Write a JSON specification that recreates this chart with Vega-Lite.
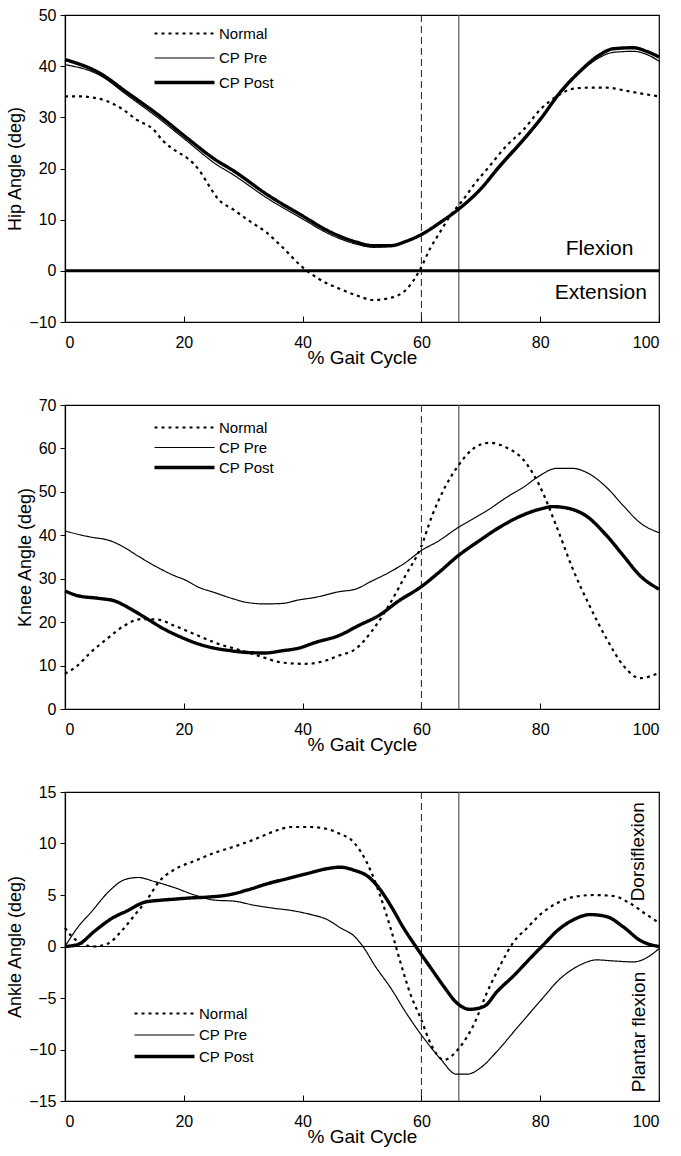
{
  "$schema": "https://vega.github.io/schema/vega-lite/v6.json",
  "background": "white",
  "padding": {"left": 6, "top": 6, "right": 12, "bottom": 4},
  "spacing": 28,
  "config": {
    "font": "Liberation Sans",
    "view": {"stroke": "black", "strokeWidth": 1.2},
    "axis": {
      "domainColor": "black", "domainWidth": 1.2, "tickColor": "black", "tickSize": 5,
      "labelColor": "black", "labelFontSize": 16, "labelFont": "Liberation Sans",
      "titleColor": "black", "titleFont": "Liberation Sans", "titleFontWeight": "normal",
      "grid": false
    },
    "axisX": {"titleFontSize": 19, "labelPadding": 18, "titlePadding": -2, "tickSize": -6},
    "axisY": {"titleFontSize": 18, "labelPadding": 4, "titlePadding": 4},
    "legend": {
      "orient": "none", "title": null, "labelFontSize": 15, "labelFont": "Liberation Sans",
      "labelColor": "black", "symbolType": "M-11,0H1", "symbolSize": 100,
      "symbolStrokeColor": "black", "labelOffset": 2, "padding": 0
    }
  },
  "datasets": {
    "hip": [
      {"x":0,"y":34.1,"s":"Normal"},{"x":2.5,"y":34.1,"s":"Normal"},{"x":5,"y":33.8,"s":"Normal"},{"x":7,"y":33.2,"s":"Normal"},{"x":9.8,"y":31.5,"s":"Normal"},{"x":12.1,"y":29.5,"s":"Normal"},{"x":14.9,"y":27.6,"s":"Normal"},{"x":16.5,"y":25.4,"s":"Normal"},{"x":18.7,"y":23.4,"s":"Normal"},{"x":20.5,"y":22.1,"s":"Normal"},{"x":22.7,"y":19.5,"s":"Normal"},{"x":24.1,"y":16.9,"s":"Normal"},{"x":25.8,"y":14.0,"s":"Normal"},{"x":28.3,"y":12.0,"s":"Normal"},{"x":31.1,"y":9.7,"s":"Normal"},{"x":33.9,"y":7.5,"s":"Normal"},{"x":36.7,"y":4.5,"s":"Normal"},{"x":39.8,"y":0.9,"s":"Normal"},{"x":42.9,"y":-1.7,"s":"Normal"},{"x":46.2,"y":-3.5,"s":"Normal"},{"x":49.1,"y":-4.8,"s":"Normal"},{"x":51.9,"y":-5.7,"s":"Normal"},{"x":54.7,"y":-5.3,"s":"Normal"},{"x":57.5,"y":-3.6,"s":"Normal"},{"x":59.8,"y":0.3,"s":"Normal"},{"x":61.4,"y":4.2,"s":"Normal"},{"x":63.1,"y":7.5,"s":"Normal"},{"x":64.8,"y":10.7,"s":"Normal"},{"x":67.1,"y":14.0,"s":"Normal"},{"x":68.7,"y":16.6,"s":"Normal"},{"x":71.5,"y":20.5,"s":"Normal"},{"x":74.3,"y":24.4,"s":"Normal"},{"x":77.2,"y":27.6,"s":"Normal"},{"x":80,"y":31.5,"s":"Normal"},{"x":82.8,"y":34.1,"s":"Normal"},{"x":85.6,"y":35.6,"s":"Normal"},{"x":88.4,"y":35.8,"s":"Normal"},{"x":91.2,"y":35.8,"s":"Normal"},{"x":94,"y":35.3,"s":"Normal"},{"x":96.8,"y":34.7,"s":"Normal"},{"x":100,"y":34.1,"s":"Normal"},
      {"x":0,"y":40.3,"s":"CP Pre"},{"x":5.9,"y":38.2,"s":"CP Pre"},{"x":10.4,"y":34.4,"s":"CP Pre"},{"x":16,"y":29.6,"s":"CP Pre"},{"x":20.5,"y":25.4,"s":"CP Pre"},{"x":25.6,"y":20.7,"s":"CP Pre"},{"x":28.3,"y":18.8,"s":"CP Pre"},{"x":33.9,"y":14.3,"s":"CP Pre"},{"x":39.6,"y":10.4,"s":"CP Pre"},{"x":45.2,"y":6.8,"s":"CP Pre"},{"x":49.1,"y":5.2,"s":"CP Pre"},{"x":51.9,"y":4.6,"s":"CP Pre"},{"x":54.7,"y":4.8,"s":"CP Pre"},{"x":57.5,"y":5.8,"s":"CP Pre"},{"x":60,"y":7.1,"s":"CP Pre"},{"x":63.1,"y":9.4,"s":"CP Pre"},{"x":66.2,"y":12.0,"s":"CP Pre"},{"x":69.9,"y":15.8,"s":"CP Pre"},{"x":73.2,"y":20.2,"s":"CP Pre"},{"x":77.2,"y":25.4,"s":"CP Pre"},{"x":80,"y":29.3,"s":"CP Pre"},{"x":83.3,"y":34.6,"s":"CP Pre"},{"x":86.7,"y":38.8,"s":"CP Pre"},{"x":90,"y":41.7,"s":"CP Pre"},{"x":92.3,"y":42.7,"s":"CP Pre"},{"x":95.7,"y":42.9,"s":"CP Pre"},{"x":97.9,"y":42.3,"s":"CP Pre"},{"x":100,"y":41.0,"s":"CP Pre"},
      {"x":0,"y":41.3,"s":"CP Post"},{"x":5.9,"y":38.6,"s":"CP Post"},{"x":10.4,"y":34.9,"s":"CP Post"},{"x":16,"y":30.2,"s":"CP Post"},{"x":20.5,"y":26.0,"s":"CP Post"},{"x":25.6,"y":21.5,"s":"CP Post"},{"x":28.3,"y":19.6,"s":"CP Post"},{"x":33.9,"y":15.0,"s":"CP Post"},{"x":39.6,"y":11.0,"s":"CP Post"},{"x":45.2,"y":7.3,"s":"CP Post"},{"x":49.1,"y":5.6,"s":"CP Post"},{"x":51.9,"y":4.9,"s":"CP Post"},{"x":54.7,"y":4.9,"s":"CP Post"},{"x":57.5,"y":5.8,"s":"CP Post"},{"x":60,"y":7.1,"s":"CP Post"},{"x":63.1,"y":9.4,"s":"CP Post"},{"x":66.2,"y":12.0,"s":"CP Post"},{"x":69.9,"y":15.9,"s":"CP Post"},{"x":73.2,"y":20.5,"s":"CP Post"},{"x":77.2,"y":25.7,"s":"CP Post"},{"x":80,"y":29.6,"s":"CP Post"},{"x":83.3,"y":34.8,"s":"CP Post"},{"x":86.7,"y":39.0,"s":"CP Post"},{"x":90,"y":42.2,"s":"CP Post"},{"x":92.3,"y":43.4,"s":"CP Post"},{"x":95.7,"y":43.6,"s":"CP Post"},{"x":97.9,"y":42.9,"s":"CP Post"},{"x":100,"y":41.8,"s":"CP Post"}
    ],
    "knee": [
      {"x":0,"y":8.1,"s":"Normal"},{"x":2.1,"y":10.0,"s":"Normal"},{"x":4.3,"y":13.0,"s":"Normal"},{"x":7.2,"y":16.3,"s":"Normal"},{"x":10,"y":19.2,"s":"Normal"},{"x":12.8,"y":20.7,"s":"Normal"},{"x":15.6,"y":20.6,"s":"Normal"},{"x":18.4,"y":19.2,"s":"Normal"},{"x":22.4,"y":16.9,"s":"Normal"},{"x":25.8,"y":15.0,"s":"Normal"},{"x":29.1,"y":13.7,"s":"Normal"},{"x":32.5,"y":12.3,"s":"Normal"},{"x":36.5,"y":10.7,"s":"Normal"},{"x":40.4,"y":10.4,"s":"Normal"},{"x":43.8,"y":11.1,"s":"Normal"},{"x":46.1,"y":12.3,"s":"Normal"},{"x":48.9,"y":13.8,"s":"Normal"},{"x":51.7,"y":18.0,"s":"Normal"},{"x":54.5,"y":23.8,"s":"Normal"},{"x":57.3,"y":30.7,"s":"Normal"},{"x":59.9,"y":37.2,"s":"Normal"},{"x":61.8,"y":44.5,"s":"Normal"},{"x":64.1,"y":51.4,"s":"Normal"},{"x":66.4,"y":56.4,"s":"Normal"},{"x":68.6,"y":59.8,"s":"Normal"},{"x":71.4,"y":61.3,"s":"Normal"},{"x":74.3,"y":60.2,"s":"Normal"},{"x":77.1,"y":57.5,"s":"Normal"},{"x":79.9,"y":51.4,"s":"Normal"},{"x":82.7,"y":42.2,"s":"Normal"},{"x":85.5,"y":32.2,"s":"Normal"},{"x":88.3,"y":23.8,"s":"Normal"},{"x":91.2,"y":16.1,"s":"Normal"},{"x":94,"y":10.0,"s":"Normal"},{"x":96.8,"y":7.1,"s":"Normal"},{"x":99.6,"y":8.1,"s":"Normal"},
      {"x":0,"y":41.0,"s":"CP Pre"},{"x":3.2,"y":39.9,"s":"CP Pre"},{"x":4.3,"y":39.6,"s":"CP Pre"},{"x":7.7,"y":38.7,"s":"CP Pre"},{"x":10,"y":37.2,"s":"CP Pre"},{"x":12.2,"y":35.3,"s":"CP Pre"},{"x":15.6,"y":32.6,"s":"CP Pre"},{"x":18.4,"y":30.7,"s":"CP Pre"},{"x":20.1,"y":29.8,"s":"CP Pre"},{"x":22.4,"y":28.1,"s":"CP Pre"},{"x":25.2,"y":26.8,"s":"CP Pre"},{"x":28,"y":25.5,"s":"CP Pre"},{"x":30.8,"y":24.5,"s":"CP Pre"},{"x":33.7,"y":24.2,"s":"CP Pre"},{"x":36.5,"y":24.3,"s":"CP Pre"},{"x":39.3,"y":25.1,"s":"CP Pre"},{"x":42.1,"y":25.7,"s":"CP Pre"},{"x":46.1,"y":27.0,"s":"CP Pre"},{"x":48.9,"y":27.6,"s":"CP Pre"},{"x":51.7,"y":29.5,"s":"CP Pre"},{"x":54.5,"y":31.4,"s":"CP Pre"},{"x":57.3,"y":33.7,"s":"CP Pre"},{"x":59.9,"y":36.4,"s":"CP Pre"},{"x":62.9,"y":38.7,"s":"CP Pre"},{"x":66.2,"y":41.8,"s":"CP Pre"},{"x":68.6,"y":43.7,"s":"CP Pre"},{"x":71.4,"y":46.0,"s":"CP Pre"},{"x":74.3,"y":48.7,"s":"CP Pre"},{"x":77.1,"y":51.0,"s":"CP Pre"},{"x":79.9,"y":53.7,"s":"CP Pre"},{"x":82.7,"y":55.4,"s":"CP Pre"},{"x":85.5,"y":55.4,"s":"CP Pre"},{"x":88.3,"y":54.1,"s":"CP Pre"},{"x":91.2,"y":51.0,"s":"CP Pre"},{"x":94,"y":46.8,"s":"CP Pre"},{"x":96.8,"y":42.9,"s":"CP Pre"},{"x":100,"y":40.6,"s":"CP Pre"},
      {"x":0,"y":27.2,"s":"CP Post"},{"x":2.1,"y":26.1,"s":"CP Post"},{"x":5.5,"y":25.5,"s":"CP Post"},{"x":8.3,"y":24.9,"s":"CP Post"},{"x":11.1,"y":23.0,"s":"CP Post"},{"x":13.9,"y":20.7,"s":"CP Post"},{"x":16.7,"y":18.4,"s":"CP Post"},{"x":19.6,"y":16.5,"s":"CP Post"},{"x":22.4,"y":15.0,"s":"CP Post"},{"x":25.2,"y":14.0,"s":"CP Post"},{"x":28,"y":13.4,"s":"CP Post"},{"x":30.8,"y":13.0,"s":"CP Post"},{"x":33.7,"y":12.9,"s":"CP Post"},{"x":36.5,"y":13.4,"s":"CP Post"},{"x":39.3,"y":14.0,"s":"CP Post"},{"x":42.1,"y":15.3,"s":"CP Post"},{"x":46.1,"y":16.9,"s":"CP Post"},{"x":49.4,"y":19.2,"s":"CP Post"},{"x":52.8,"y":21.5,"s":"CP Post"},{"x":56.2,"y":24.9,"s":"CP Post"},{"x":59.9,"y":28.1,"s":"CP Post"},{"x":62.9,"y":31.4,"s":"CP Post"},{"x":66.2,"y":35.3,"s":"CP Post"},{"x":69.7,"y":38.7,"s":"CP Post"},{"x":73.1,"y":41.8,"s":"CP Post"},{"x":76.5,"y":44.3,"s":"CP Post"},{"x":79.9,"y":46.0,"s":"CP Post"},{"x":82.1,"y":46.6,"s":"CP Post"},{"x":84.4,"y":46.3,"s":"CP Post"},{"x":87.7,"y":44.5,"s":"CP Post"},{"x":91.2,"y":39.9,"s":"CP Post"},{"x":94,"y":35.3,"s":"CP Post"},{"x":96.8,"y":30.7,"s":"CP Post"},{"x":100,"y":27.6,"s":"CP Post"}
    ],
    "ankle": [
      {"x":0,"y":1.8,"s":"Normal"},{"x":1.1,"y":1.0,"s":"Normal"},{"x":2.8,"y":0.3,"s":"Normal"},{"x":5,"y":0,"s":"Normal"},{"x":7.3,"y":0.3,"s":"Normal"},{"x":9.5,"y":1.5,"s":"Normal"},{"x":11.8,"y":3.1,"s":"Normal"},{"x":14,"y":4.7,"s":"Normal"},{"x":15.7,"y":6.2,"s":"Normal"},{"x":18.5,"y":7.5,"s":"Normal"},{"x":21.8,"y":8.3,"s":"Normal"},{"x":25.2,"y":9.1,"s":"Normal"},{"x":28.5,"y":9.7,"s":"Normal"},{"x":31.9,"y":10.4,"s":"Normal"},{"x":35.3,"y":11.2,"s":"Normal"},{"x":38.1,"y":11.6,"s":"Normal"},{"x":41.4,"y":11.6,"s":"Normal"},{"x":44.2,"y":11.4,"s":"Normal"},{"x":46.4,"y":10.9,"s":"Normal"},{"x":48.1,"y":10.4,"s":"Normal"},{"x":49.8,"y":9.2,"s":"Normal"},{"x":51.5,"y":7.3,"s":"Normal"},{"x":53.2,"y":4.7,"s":"Normal"},{"x":54.8,"y":1.8,"s":"Normal"},{"x":56.4,"y":-1.4,"s":"Normal"},{"x":58.2,"y":-4.7,"s":"Normal"},{"x":59.9,"y":-7.0,"s":"Normal"},{"x":61.6,"y":-9.5,"s":"Normal"},{"x":63.8,"y":-11.0,"s":"Normal"},{"x":66.3,"y":-9.9,"s":"Normal"},{"x":68.8,"y":-7.6,"s":"Normal"},{"x":71.1,"y":-4.4,"s":"Normal"},{"x":73.3,"y":-1.8,"s":"Normal"},{"x":75.6,"y":0.5,"s":"Normal"},{"x":77.8,"y":1.8,"s":"Normal"},{"x":80,"y":3.1,"s":"Normal"},{"x":82.8,"y":4.2,"s":"Normal"},{"x":85.6,"y":4.8,"s":"Normal"},{"x":89,"y":5.0,"s":"Normal"},{"x":92.3,"y":4.9,"s":"Normal"},{"x":95.1,"y":4.2,"s":"Normal"},{"x":97.9,"y":3.1,"s":"Normal"},{"x":100,"y":2.3,"s":"Normal"},
      {"x":0,"y":0,"s":"CP Pre"},{"x":2.2,"y":1.9,"s":"CP Pre"},{"x":4.5,"y":3.4,"s":"CP Pre"},{"x":7.3,"y":5.3,"s":"CP Pre"},{"x":10.1,"y":6.5,"s":"CP Pre"},{"x":12.3,"y":6.7,"s":"CP Pre"},{"x":15.1,"y":6.3,"s":"CP Pre"},{"x":18.5,"y":5.7,"s":"CP Pre"},{"x":21.8,"y":5.0,"s":"CP Pre"},{"x":25.2,"y":4.5,"s":"CP Pre"},{"x":28.5,"y":4.4,"s":"CP Pre"},{"x":31.9,"y":4.0,"s":"CP Pre"},{"x":35.3,"y":3.7,"s":"CP Pre"},{"x":38.1,"y":3.5,"s":"CP Pre"},{"x":41.4,"y":3.1,"s":"CP Pre"},{"x":44.2,"y":2.6,"s":"CP Pre"},{"x":46.4,"y":1.8,"s":"CP Pre"},{"x":48.7,"y":1.0,"s":"CP Pre"},{"x":50.4,"y":-0.2,"s":"CP Pre"},{"x":52.1,"y":-1.8,"s":"CP Pre"},{"x":54.8,"y":-4.0,"s":"CP Pre"},{"x":57.6,"y":-6.6,"s":"CP Pre"},{"x":60.4,"y":-8.9,"s":"CP Pre"},{"x":63.2,"y":-10.9,"s":"CP Pre"},{"x":65.9,"y":-12.4,"s":"CP Pre"},{"x":67.7,"y":-12.4,"s":"CP Pre"},{"x":69.9,"y":-11.8,"s":"CP Pre"},{"x":72.7,"y":-10.2,"s":"CP Pre"},{"x":76.1,"y":-7.9,"s":"CP Pre"},{"x":80,"y":-5.3,"s":"CP Pre"},{"x":83.4,"y":-3.1,"s":"CP Pre"},{"x":86.7,"y":-1.8,"s":"CP Pre"},{"x":89.5,"y":-1.3,"s":"CP Pre"},{"x":92.3,"y":-1.4,"s":"CP Pre"},{"x":95.7,"y":-1.5,"s":"CP Pre"},{"x":97.9,"y":-1.1,"s":"CP Pre"},{"x":100,"y":-0.2,"s":"CP Pre"},
      {"x":0,"y":0,"s":"CP Post"},{"x":2.2,"y":0.2,"s":"CP Post"},{"x":5,"y":1.5,"s":"CP Post"},{"x":7.8,"y":2.7,"s":"CP Post"},{"x":10.6,"y":3.5,"s":"CP Post"},{"x":13.4,"y":4.3,"s":"CP Post"},{"x":16.2,"y":4.5,"s":"CP Post"},{"x":18.5,"y":4.6,"s":"CP Post"},{"x":20.7,"y":4.7,"s":"CP Post"},{"x":24.1,"y":4.8,"s":"CP Post"},{"x":27.4,"y":5.0,"s":"CP Post"},{"x":30.8,"y":5.5,"s":"CP Post"},{"x":34.1,"y":6.1,"s":"CP Post"},{"x":37.5,"y":6.6,"s":"CP Post"},{"x":40.9,"y":7.1,"s":"CP Post"},{"x":43.6,"y":7.5,"s":"CP Post"},{"x":46.4,"y":7.7,"s":"CP Post"},{"x":48.7,"y":7.4,"s":"CP Post"},{"x":51,"y":6.8,"s":"CP Post"},{"x":52.7,"y":5.8,"s":"CP Post"},{"x":54.8,"y":4.0,"s":"CP Post"},{"x":57,"y":1.8,"s":"CP Post"},{"x":59.3,"y":-0.2,"s":"CP Post"},{"x":61.6,"y":-2.1,"s":"CP Post"},{"x":63.8,"y":-3.9,"s":"CP Post"},{"x":66,"y":-5.5,"s":"CP Post"},{"x":68.2,"y":-6.1,"s":"CP Post"},{"x":70.6,"y":-5.8,"s":"CP Post"},{"x":72.7,"y":-4.4,"s":"CP Post"},{"x":75.6,"y":-2.8,"s":"CP Post"},{"x":78.4,"y":-1.1,"s":"CP Post"},{"x":80.6,"y":0.2,"s":"CP Post"},{"x":82.8,"y":1.5,"s":"CP Post"},{"x":85.6,"y":2.6,"s":"CP Post"},{"x":88.4,"y":3.1,"s":"CP Post"},{"x":91.2,"y":2.9,"s":"CP Post"},{"x":94,"y":1.9,"s":"CP Post"},{"x":96.8,"y":0.6,"s":"CP Post"},{"x":100,"y":0,"s":"CP Post"}
    ]
  },
  "vconcat": [
    {
      "width": 594, "height": 307,
      "layer": [
        {"data": {"values": [{"x": 60}]}, "mark": {"type": "rule", "color": "#222", "strokeWidth": 1, "strokeDash": [7, 4]}, "encoding": {"x": {"field": "x", "type": "quantitative", "scale": {"domain": [0, 100]}}}},
        {"data": {"values": [{"x": 66.3}]}, "mark": {"type": "rule", "color": "#555", "strokeWidth": 1.2}, "encoding": {"x": {"field": "x", "type": "quantitative"}}},
        {"data": {"values": [{"y": 0}]}, "mark": {"type": "rule", "color": "black", "strokeWidth": 3}, "encoding": {"y": {"field": "y", "type": "quantitative"}}},
        {"data": {"values": [{"x": 90, "y": 4.3, "t": "Flexion"}, {"x": 90.2, "y": -4.4, "t": "Extension"}]}, "mark": {"type": "text", "fontSize": 21, "font": "Liberation Sans", "color": "black", "align": "center", "baseline": "middle"}, "encoding": {"x": {"field": "x", "type": "quantitative"}, "y": {"field": "y", "type": "quantitative"}, "text": {"field": "t"}}},
        {
          "data": {"name": "hip"},
          "mark": {"type": "line", "color": "black", "interpolate": "monotone"},
          "encoding": {
            "x": {"field": "x", "type": "quantitative", "scale": {"domain": [0, 100], "nice": false}, "axis": {"values": [0, 20, 40, 60, 80, 100], "title": "% Gait Cycle"}},
            "y": {"field": "y", "type": "quantitative", "scale": {"domain": [-10, 50], "nice": false}, "axis": {"values": [-10, 0, 10, 20, 30, 40, 50], "title": "Hip Angle (deg)"}},
            "strokeDash": {"field": "s", "type": "nominal", "scale": {"type": "ordinal", "domain": ["Normal", "CP Pre", "CP Post"], "range": [[3, 4], [1, 0], [1, 0]]}, "legend": {"legendX": 137, "legendY": 11, "rowPadding": 8.5}},
            "strokeWidth": {"field": "s", "type": "nominal", "scale": {"type": "ordinal", "domain": ["Normal", "CP Pre", "CP Post"], "range": [2.2, 1.2, 3.4]}, "legend": {"legendX": 137, "legendY": 11, "rowPadding": 8.5}}
          }
        }
      ]
    },
    {
      "width": 594, "height": 304,
      "layer": [
        {"data": {"values": [{"x": 60}]}, "mark": {"type": "rule", "color": "#222", "strokeWidth": 1, "strokeDash": [7, 4]}, "encoding": {"x": {"field": "x", "type": "quantitative", "scale": {"domain": [0, 100]}}}},
        {"data": {"values": [{"x": 66.3}]}, "mark": {"type": "rule", "color": "#555", "strokeWidth": 1.2}, "encoding": {"x": {"field": "x", "type": "quantitative"}}},
        {
          "data": {"name": "knee"},
          "mark": {"type": "line", "color": "black", "interpolate": "monotone"},
          "encoding": {
            "x": {"field": "x", "type": "quantitative", "scale": {"domain": [0, 100], "nice": false}, "axis": {"values": [0, 20, 40, 60, 80, 100], "title": "% Gait Cycle"}},
            "y": {"field": "y", "type": "quantitative", "scale": {"domain": [0, 70], "nice": false}, "axis": {"values": [0, 10, 20, 30, 40, 50, 60, 70], "title": "Knee Angle (deg)"}},
            "strokeDash": {"field": "s", "type": "nominal", "scale": {"type": "ordinal", "domain": ["Normal", "CP Pre", "CP Post"], "range": [[3, 4], [1, 0], [1, 0]]}, "legend": {"legendX": 137, "legendY": 15, "rowPadding": 4}},
            "strokeWidth": {"field": "s", "type": "nominal", "scale": {"type": "ordinal", "domain": ["Normal", "CP Pre", "CP Post"], "range": [2.2, 1.2, 3.4]}, "legend": {"legendX": 137, "legendY": 15, "rowPadding": 4}}
          }
        }
      ]
    },
    {
      "width": 594, "height": 309,
      "layer": [
        {"data": {"values": [{"x": 60}]}, "mark": {"type": "rule", "color": "#222", "strokeWidth": 1, "strokeDash": [7, 4]}, "encoding": {"x": {"field": "x", "type": "quantitative", "scale": {"domain": [0, 100]}}}},
        {"data": {"values": [{"x": 66.3}]}, "mark": {"type": "rule", "color": "#555", "strokeWidth": 1.2}, "encoding": {"x": {"field": "x", "type": "quantitative"}}},
        {"data": {"values": [{"y": 0}]}, "mark": {"type": "rule", "color": "black", "strokeWidth": 1.2}, "encoding": {"y": {"field": "y", "type": "quantitative"}}},
        {"data": {"values": [{"x": 96.4, "y": 9.2, "t": "Dorsiflexion"}, {"x": 96.6, "y": -8.3, "t": "Plantar flexion"}]}, "mark": {"type": "text", "fontSize": 19, "font": "Liberation Sans", "color": "black", "align": "center", "baseline": "middle", "angle": 270}, "encoding": {"x": {"field": "x", "type": "quantitative"}, "y": {"field": "y", "type": "quantitative"}, "text": {"field": "t"}}},
        {
          "data": {"name": "ankle"},
          "mark": {"type": "line", "color": "black", "interpolate": "monotone"},
          "encoding": {
            "x": {"field": "x", "type": "quantitative", "scale": {"domain": [0, 100], "nice": false}, "axis": {"values": [0, 20, 40, 60, 80, 100], "title": "% Gait Cycle"}},
            "y": {"field": "y", "type": "quantitative", "scale": {"domain": [-15, 15], "nice": false}, "axis": {"values": [-15, -10, -5, 0, 5, 10, 15], "title": "Ankle Angle (deg)"}},
            "strokeDash": {"field": "s", "type": "nominal", "scale": {"type": "ordinal", "domain": ["Normal", "CP Pre", "CP Post"], "range": [[3, 4], [1, 0], [1, 0]]}, "legend": {"legendX": 117, "legendY": 214, "rowPadding": 5.5}},
            "strokeWidth": {"field": "s", "type": "nominal", "scale": {"type": "ordinal", "domain": ["Normal", "CP Pre", "CP Post"], "range": [2.2, 1.2, 3.4]}, "legend": {"legendX": 117, "legendY": 214, "rowPadding": 5.5}}
          }
        }
      ]
    }
  ],
  "resolve": {"scale": {"x": "independent", "y": "independent", "strokeDash": "independent", "strokeWidth": "independent"}, "legend": {"strokeDash": "independent", "strokeWidth": "independent"}}
}
